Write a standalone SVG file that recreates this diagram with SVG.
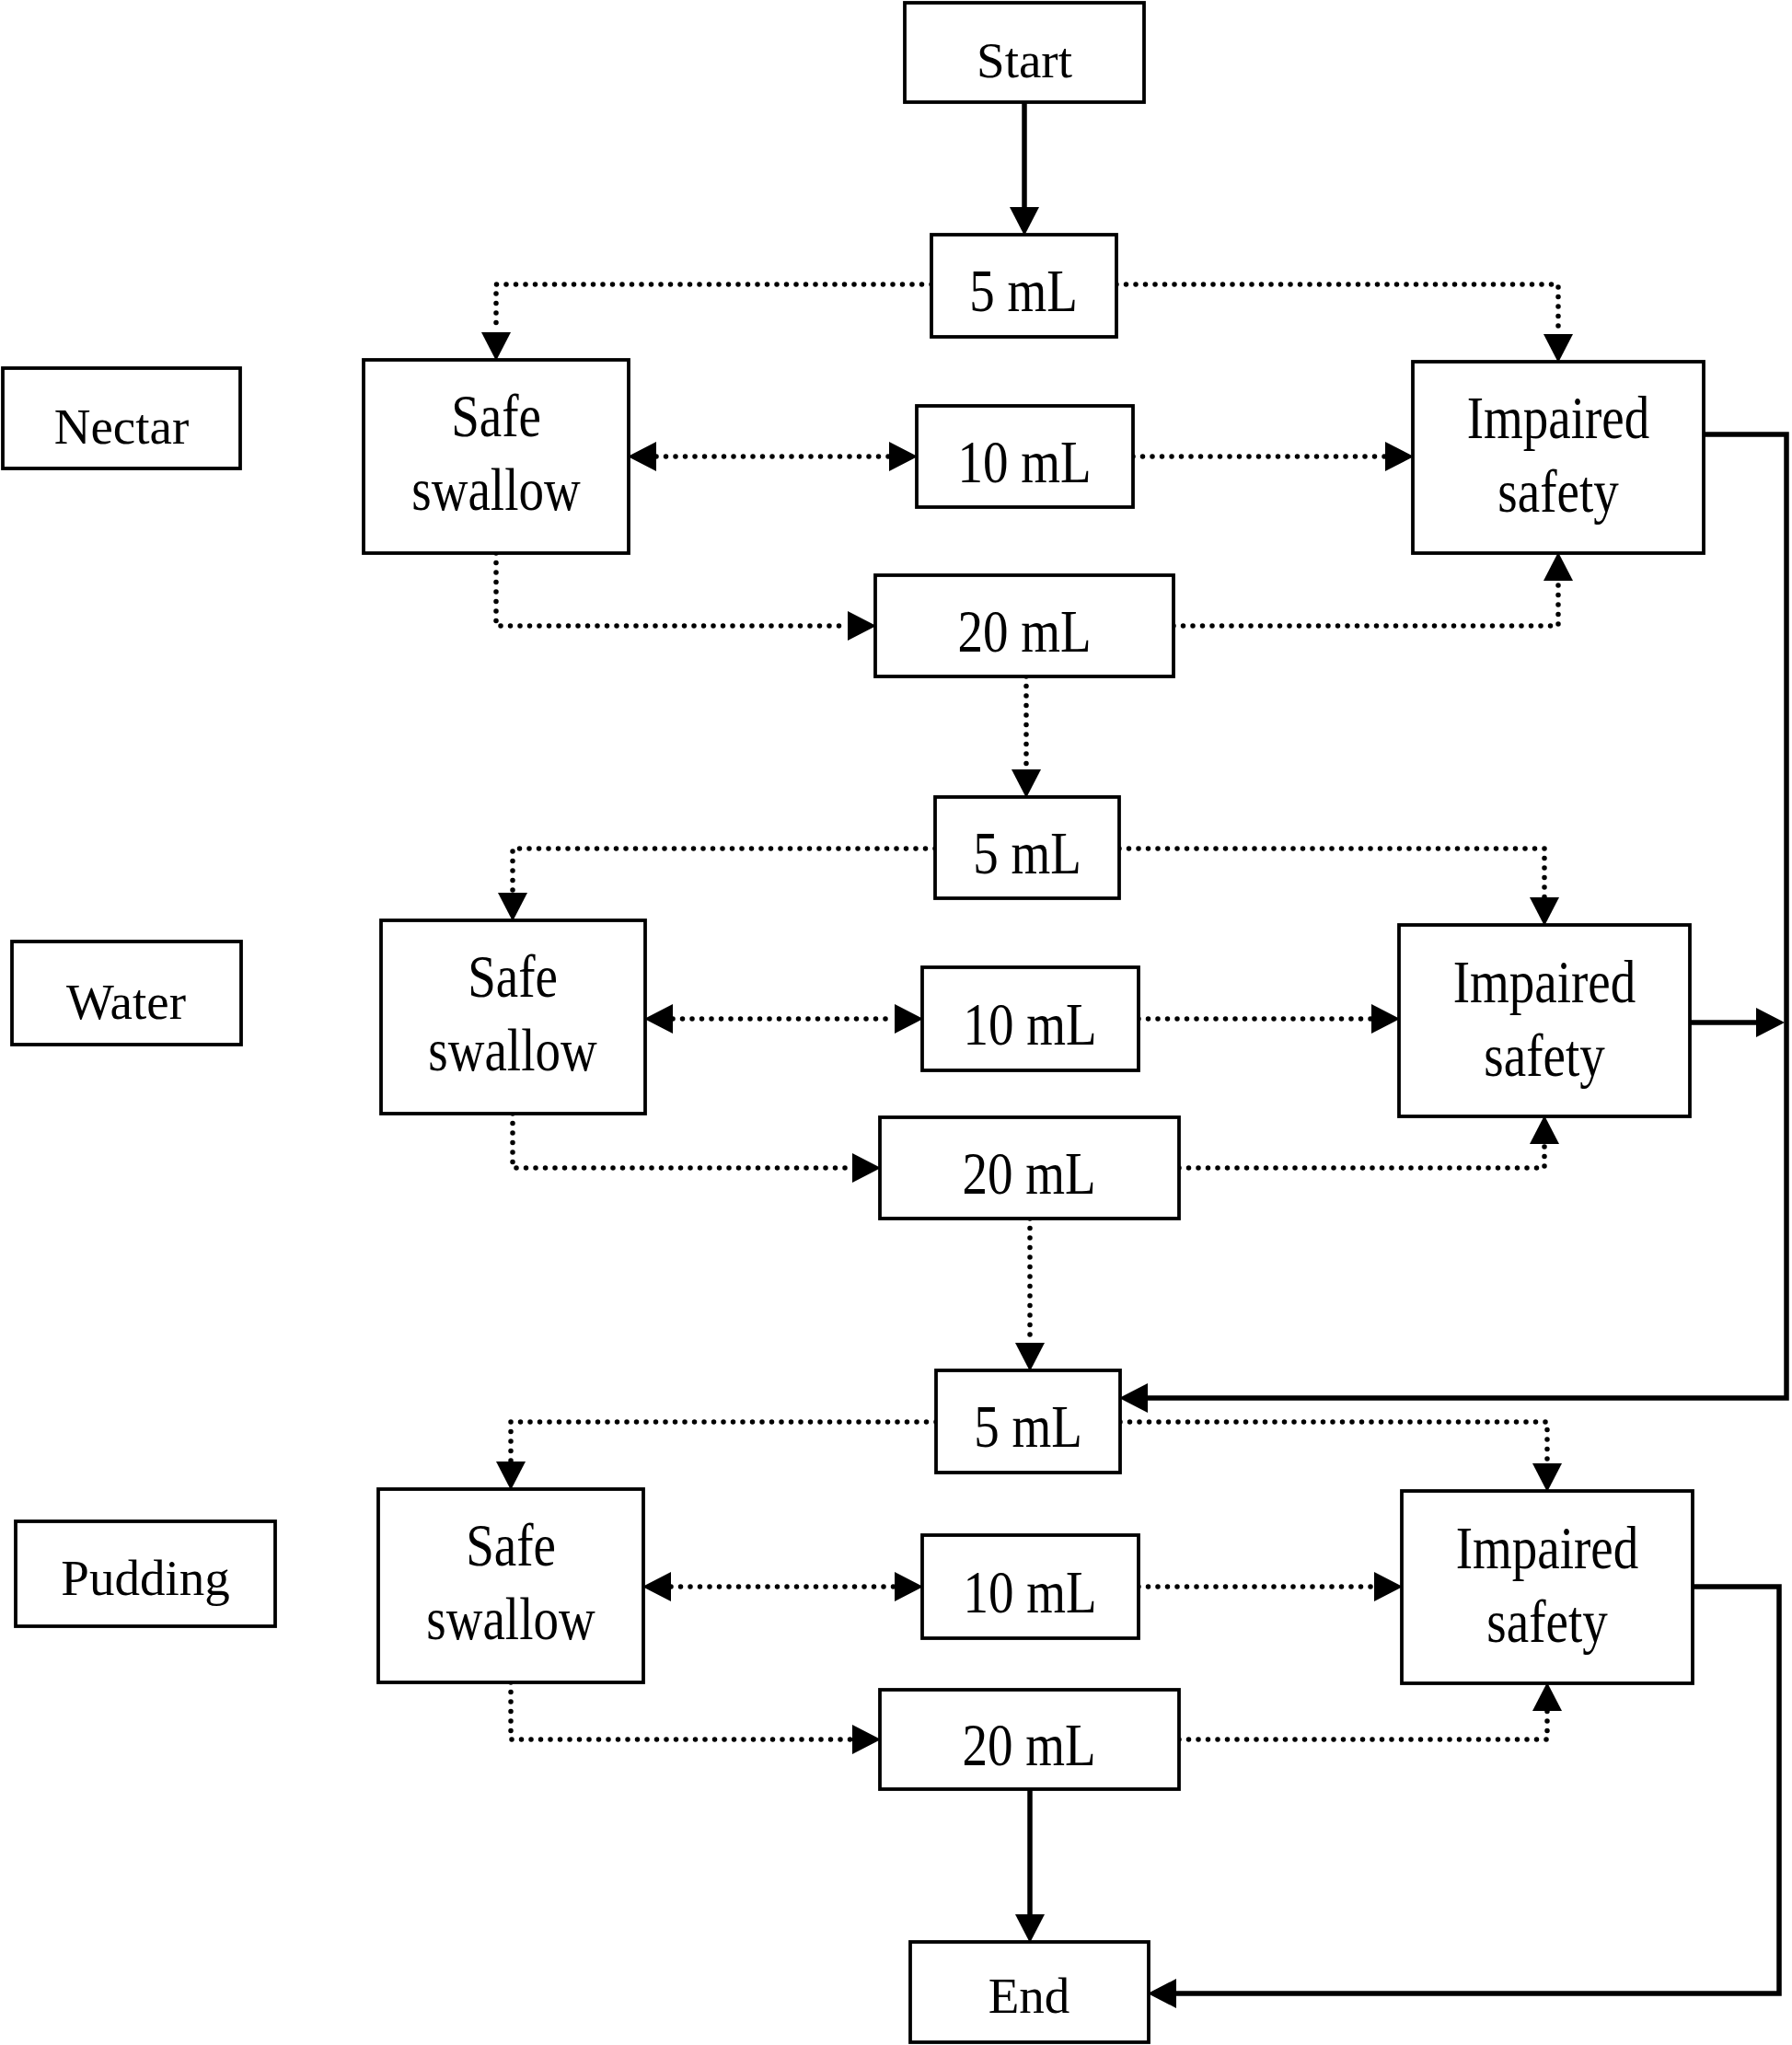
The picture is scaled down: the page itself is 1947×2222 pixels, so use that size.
<svg xmlns="http://www.w3.org/2000/svg" width="1947" height="2222" viewBox="0 0 1947 2222">
<style>
.box{fill:#fff;stroke:#000;stroke-width:3.8}
.t{font-family:"Liberation Serif","Times New Roman",serif;font-size:55px;fill:#000;text-anchor:middle}
.solid{fill:none;stroke:#000;stroke-width:5.5}
.dot{fill:none;stroke:#000;stroke-width:5.5;stroke-dasharray:0 10.5;stroke-linecap:round}
</style>
<defs>
<marker id="ah" markerUnits="userSpaceOnUse" markerWidth="31" markerHeight="32" refX="0" refY="16" orient="auto-start-reverse" viewBox="0 0 31 32">
<path d="M0,0 L31,16 L0,32 z" fill="#000"/>
</marker>
</defs>
<rect width="1947" height="2222" fill="#fff"/>
<g id="connectors">
<path class="solid" d="M1113,111 V225" marker-end="url(#ah)"/>
<path class="dot" d="M1012,309 H539 V361" marker-end="url(#ah)"/>
<path class="dot" d="M1213,309 H1693 V363" marker-end="url(#ah)"/>
<path class="dot" d="M713,496 H966" marker-start="url(#ah)" marker-end="url(#ah)"/>
<path class="dot" d="M1231,496 H1505" marker-end="url(#ah)"/>
<path class="dot" d="M539,601 V680 H921" marker-end="url(#ah)"/>
<path class="dot" d="M1275,680 H1693 V631" marker-end="url(#ah)"/>
<path class="dot" d="M1115,735 V836" marker-end="url(#ah)"/>
<path class="dot" d="M1016,922 H557 V970" marker-end="url(#ah)"/>
<path class="dot" d="M1216,922 H1678 V975" marker-end="url(#ah)"/>
<path class="dot" d="M731,1107 H972" marker-start="url(#ah)" marker-end="url(#ah)"/>
<path class="dot" d="M1237,1107 H1490" marker-end="url(#ah)"/>
<path class="dot" d="M557,1210 V1269 H926" marker-end="url(#ah)"/>
<path class="dot" d="M1281,1269 H1678 V1243" marker-end="url(#ah)"/>
<path class="dot" d="M1119,1324 V1459" marker-end="url(#ah)"/>
<path class="dot" d="M1017,1545 H555 V1588" marker-end="url(#ah)"/>
<path class="dot" d="M1217,1545 H1681 V1590" marker-end="url(#ah)"/>
<path class="dot" d="M729,1724 H972" marker-start="url(#ah)" marker-end="url(#ah)"/>
<path class="dot" d="M1237,1724 H1493" marker-end="url(#ah)"/>
<path class="dot" d="M555,1828 V1890 H926" marker-end="url(#ah)"/>
<path class="dot" d="M1281,1890 H1681 V1859" marker-end="url(#ah)"/>
<path class="solid" d="M1119,1944 V2080" marker-end="url(#ah)"/>
<path class="solid" d="M1851,472 H1941 V1519 H1247" marker-end="url(#ah)"/>
<path class="solid" d="M1836,1111 H1908" marker-end="url(#ah)"/>
<path class="solid" d="M1839,1724 H1933 V2166 H1278" marker-end="url(#ah)"/>
</g>
<g id="start"><rect class="box" x="983" y="3" width="260" height="108"/><text class="t" x="1113" y="84">Start</text></g>
<g id="nectar"><rect class="box" x="3" y="400" width="258" height="109"/><text class="t" x="132" y="482">Nectar</text></g>
<g id="water"><rect class="box" x="13" y="1023" width="249" height="112"/><text class="t" x="137" y="1107">Water</text></g>
<g id="pudding"><rect class="box" x="17" y="1653" width="282" height="114"/><text class="t" x="158" y="1733">Pudding</text></g>

<g id="n5"><rect class="box" x="1012" y="255" width="201" height="111"/><text class="t" transform="translate(1112,338) scale(1,1.2)">5 mL</text></g>
<g id="nsafe"><rect class="box" x="395" y="391" width="288" height="210"/><text class="t" transform="translate(539,474) scale(1,1.2)">Safe</text><text class="t" transform="translate(539,554) scale(1,1.2)">swallow</text></g>
<g id="n10"><rect class="box" x="996" y="441" width="235" height="110"/><text class="t" transform="translate(1113,524) scale(1,1.2)">10 mL</text></g>
<g id="nimp"><rect class="box" x="1535" y="393" width="316" height="208"/><text class="t" transform="translate(1693,476) scale(1,1.2)">Impaired</text><text class="t" transform="translate(1693,556) scale(1,1.2)">safety</text></g>
<g id="n20"><rect class="box" x="951" y="625" width="324" height="110"/><text class="t" transform="translate(1113,708) scale(1,1.2)">20 mL</text></g>

<g id="w5"><rect class="box" x="1016" y="866" width="200" height="110"/><text class="t" transform="translate(1116,949) scale(1,1.2)">5 mL</text></g>
<g id="wsafe"><rect class="box" x="414" y="1000" width="287" height="210"/><text class="t" transform="translate(557,1083) scale(1,1.2)">Safe</text><text class="t" transform="translate(557,1163) scale(1,1.2)">swallow</text></g>
<g id="w10"><rect class="box" x="1002" y="1051" width="235" height="112"/><text class="t" transform="translate(1119,1135) scale(1,1.2)">10 mL</text></g>
<g id="wimp"><rect class="box" x="1520" y="1005" width="316" height="208"/><text class="t" transform="translate(1678,1089) scale(1,1.2)">Impaired</text><text class="t" transform="translate(1678,1169) scale(1,1.2)">safety</text></g>
<g id="w20"><rect class="box" x="956" y="1214" width="325" height="110"/><text class="t" transform="translate(1118,1297) scale(1,1.2)">20 mL</text></g>

<g id="p5"><rect class="box" x="1017" y="1489" width="200" height="111"/><text class="t" transform="translate(1117,1572) scale(1,1.2)">5 mL</text></g>
<g id="psafe"><rect class="box" x="411" y="1618" width="288" height="210"/><text class="t" transform="translate(555,1701) scale(1,1.2)">Safe</text><text class="t" transform="translate(555,1781) scale(1,1.2)">swallow</text></g>
<g id="p10"><rect class="box" x="1002" y="1668" width="235" height="112"/><text class="t" transform="translate(1119,1752) scale(1,1.2)">10 mL</text></g>
<g id="pimp"><rect class="box" x="1523" y="1620" width="316" height="209"/><text class="t" transform="translate(1681,1704) scale(1,1.2)">Impaired</text><text class="t" transform="translate(1681,1784) scale(1,1.2)">safety</text></g>
<g id="p20"><rect class="box" x="956" y="1836" width="325" height="108"/><text class="t" transform="translate(1118,1918) scale(1,1.2)">20 mL</text></g>
<g id="end"><rect class="box" x="989" y="2110" width="259" height="109"/><text class="t" x="1118" y="2187">End</text></g>
</svg>
